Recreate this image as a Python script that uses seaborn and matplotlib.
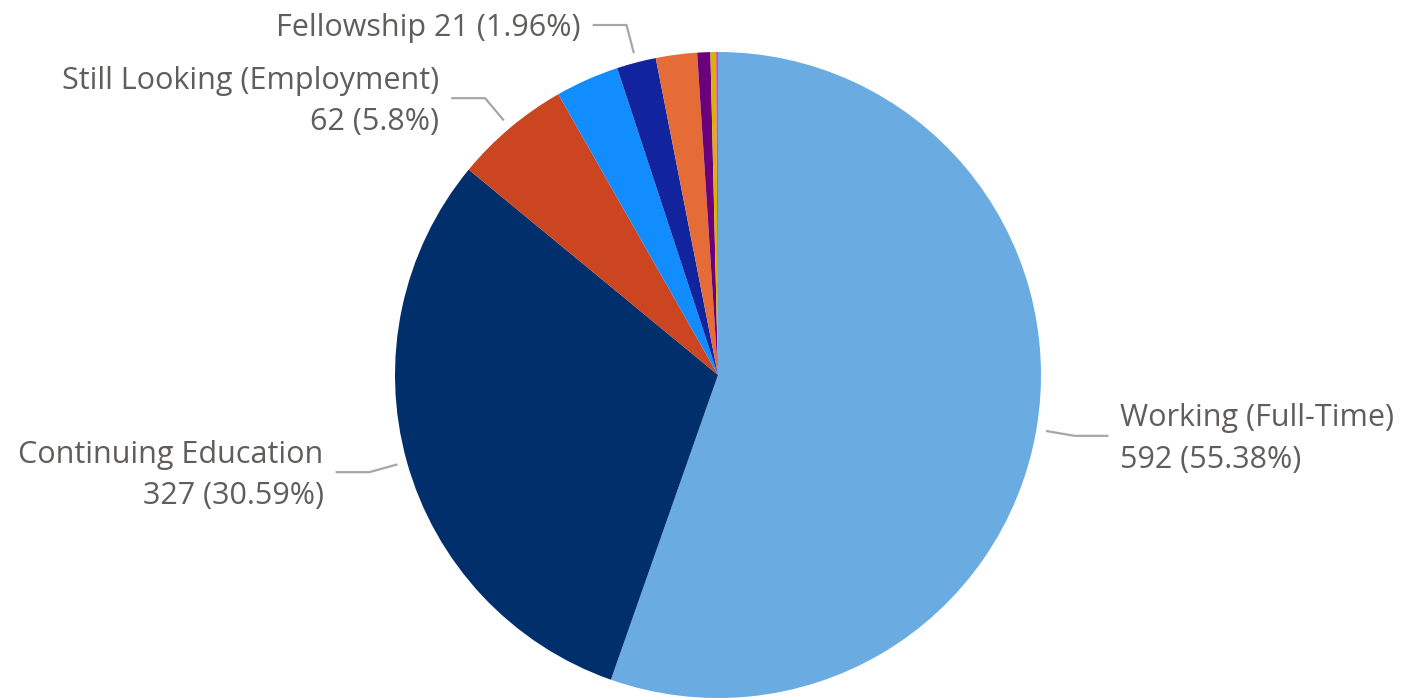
import numpy as np
import matplotlib
matplotlib.use("Agg")
import matplotlib.pyplot as plt
import seaborn as sns

# outcome categories, counts (total 1069)
outcomes = ["Working (Full-Time)", "Continuing Education", "Still Looking (Employment)",
            "Working (Part-Time)", "Fellowship", "Volunteering", "Military", "Not Seeking", "Other"]
counts = [592, 327, 62, 34, 21, 22, 7, 3, 1]
colors = ["#6AABE2", "#002F6C", "#CB4520", "#118DFF", "#12239E", "#E66C37", "#6B007B", "#D9B300", "#E044A7"]
labelled = ["Working (Full-Time)", "Continuing Education", "Still Looking (Employment)", "Fellowship"]

sns.set_theme(style="white")
plt.rcParams['font.family'] = ['Open Sans', 'DejaVu Sans']

fig = plt.figure(figsize=(14.04, 6.98), dpi=100)
ax = fig.add_axes([0, 0, 1, 1])
# 1 data unit = pie radius (323 px), centre of pie at (718, 375) px
R = 323

wedges, _ = ax.pie(counts, colors=colors, startangle=90, counterclock=False,
                   radius=1, center=(0, 0), wedgeprops=dict(linewidth=0))
ax.set_xlim(-718 / R, (1404 - 718) / R)
ax.set_ylim(-(698 - 375) / R, 375 / R)
ax.set_aspect('equal')
ax.axis('off')

total = sum(counts)
for w, name, n in zip(wedges, outcomes, counts):
    if name not in labelled:
        continue
    pct = round(n / total * 100, 2)
    if name == "Fellowship":
        txt = f"{name} {n} ({pct:g}%)"
    else:
        txt = f"{name}\n{n} ({pct:g}%)"
    mid = np.deg2rad((w.theta1 + w.theta2) / 2)
    x0, y0 = 1.03 * np.cos(mid), 1.03 * np.sin(mid)
    x1, y1 = 1.12 * np.cos(mid), 1.12 * np.sin(mid)
    side = 1 if x1 > 0 else -1
    x2 = x1 + side * 0.105
    ax.plot([x0, x1, x2], [y0, y1, y1], color="#A6A6A6", lw=1.6, solid_capstyle='butt')
    ax.text(x2 + side * 0.037, y1 - 0.01, txt, ha='left' if side > 0 else 'right', va='center',
            fontsize=22, color="#605E5C", linespacing=1.5,
            multialignment='left' if side > 0 else 'right')

fig.savefig("out.png", dpi=100)
